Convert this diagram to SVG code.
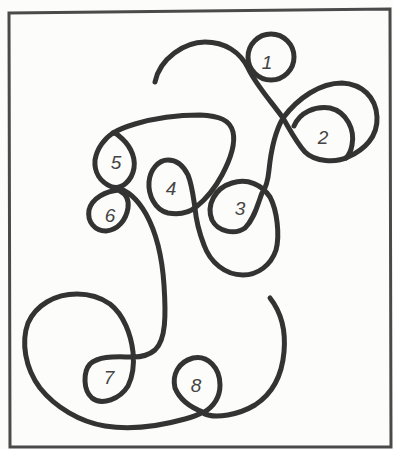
<svg xmlns="http://www.w3.org/2000/svg" width="393" height="449" viewBox="0 0 393 449">
<style>
.bg{fill:#fcfcfa}
.frame{fill:none;stroke:#4a4a4a;stroke-width:3;stroke-linejoin:miter}
.cv{fill:none;stroke:#333;stroke-width:5;stroke-linecap:round;stroke-linejoin:round}
.lb{font-family:"Liberation Sans",Arial,sans-serif;font-style:italic;font-size:19px;fill:#444;text-anchor:middle}
</style>
<rect class="bg" x="0" y="0" width="393" height="449"/>
<g id="frame"><polygon class="frame" points="9,13 390,9 391,447 10,447"/></g>
<g id="curve">
<path class="cv" d="M155,82 C160,58 185,42 205,42 C225,42 240,52 248,68 C256,85 270,100 283,118 C289,128 296,142 305,152 C315,162 336,163 348,157 C364,150 378,137 377,117 C376,97 362,84 342,83 C320,83 298,98 283,118 C276,130 271,150 269,170 C268,180 266,188 262,193 C258,203 255,218 245,228 C235,235 218,232 212,220 C206,205 215,188 232,183 C248,178 262,185 270,197 C277,210 280,235 276,250 C271,265 258,275 243,275 C225,275 210,262 204,245 C199,232 196,220 195,208 C193,195 192,185 188,175 C183,165 176,160 168,160 C158,160 150,170 149,182 C148,195 155,210 168,213 C180,215 190,212 196,207 C205,200 215,188 222,175 C230,160 236,145 233,132 C230,120 220,116 200,115 C180,115 155,118 135,124 C125,127 118,130 113,133"/>
<circle class="cv" cx="271" cy="57" r="23"/>
<path class="cv" d="M294,126 C300,112 315,106 330,108 C347,112 355,130 352,145 C351,151 349,155 346,158"/>
<path class="cv" d="M113,133 C105,138 97,148 95,160 C94,172 100,182 112,187 C122,190 132,180 134,168 C136,155 128,143 119,136 C117,134 115,133 113,133"/>
<path class="cv" d="M119,190 C106,191 92,198 89,210 C87,222 95,231 106,231 C118,230 126,220 128,208 C129,200 126,194 120,191"/>
<path class="cv" d="M116,188 C128,190 138,200 146,214 C156,232 162,255 164,285 C166,315 166,340 155,350 C148,356 140,357 133,357 C118,357 100,355 90,364 C83,372 83,390 92,398 C102,406 120,399 128,386 C134,374 134,362 133,352 C131,335 124,315 110,304 C100,297 90,294 77,294 C55,294 36,305 28,323 C21,342 25,368 40,388 C55,407 80,422 105,426 C130,430 160,426 185,419 C193,417 198,415 203,412 C192,408 180,400 175,388 C172,375 178,362 193,358 C208,355 220,368 220,385 C220,398 213,407 203,413 C215,420 240,414 255,405 C272,394 282,375 284,352 C286,330 281,312 270,298"/>
</g>
<g id="loop-1"><text class="lb" x="267" y="69">1</text></g>
<g id="loop-2"><text class="lb" x="323" y="144">2</text></g>
<g id="loop-3"><text class="lb" x="240" y="215">3</text></g>
<g id="loop-4"><text class="lb" x="171" y="195">4</text></g>
<g id="loop-5"><text class="lb" x="116" y="169">5</text></g>
<g id="loop-6"><text class="lb" x="110" y="222">6</text></g>
<g id="loop-7"><text class="lb" x="109" y="384">7</text></g>
<g id="loop-8"><text class="lb" x="196" y="392">8</text></g>
</svg>
